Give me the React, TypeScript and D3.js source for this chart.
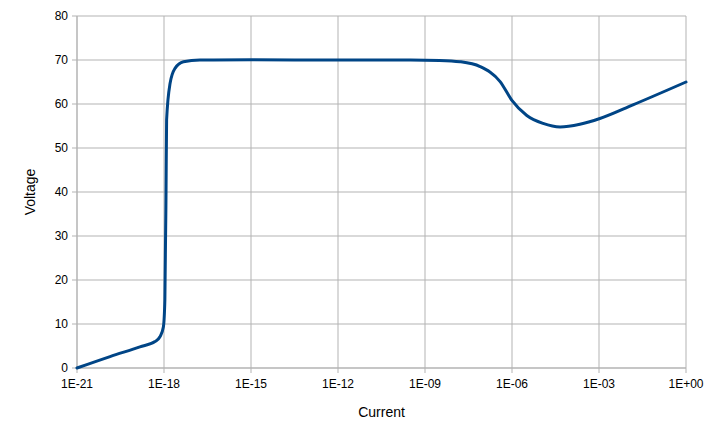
import React from "react";
import * as d3 from "d3";

const currentExp: number[] = [
  -21, -19.86, -18.83, -18.31, -18.14, -18.02, -17.97, -17.93, -17.91,
  -17.79, -17.62, -17.33, -16.76, -15, -12, -9.5, -8.5, -7.79, -7.1, -6.41,
  -6.01, -5.49, -4.93, -4.34, -3.66, -2.97, -1.83, 0,
];
const voltage: number[] = [
  0, 2.6, 4.8, 6.0, 7.1, 9.4, 15.5, 40, 56.4,
  64.7, 68.1, 69.6, 70, 70.05, 70, 70, 69.9, 69.6, 68.5, 65.1,
  60.9, 57.4, 55.6, 54.8, 55.4, 56.7, 59.8, 65,
];
const xTickExp: number[] = [-21, -18, -15, -12, -9, -6, -3, 0];
const yTicks: number[] = [0, 10, 20, 30, 40, 50, 60, 70, 80];

const W = 719;
const H = 439;
const margin = { left: 77, right: 33, top: 16, bottom: 71 };

function fmtExp(e: number): string {
  const sign = e < 0 ? "-" : "+";
  const a = Math.abs(e);
  return `1E${sign}${a < 10 ? "0" + a : a}`;
}

export default function App() {
  const x = d3
    .scaleLog()
    .domain([1e-21, 1])
    .range([margin.left, W - margin.right]);
  const y = d3
    .scaleLinear()
    .domain([0, 80])
    .range([H - margin.bottom, margin.top]);

  const data = currentExp.map((e, i) => ({ c: Math.pow(10, e), v: voltage[i] }));
  const line = d3
    .line<{ c: number; v: number }>()
    .x((d) => x(d.c))
    .y((d) => y(d.v))
    .curve(d3.curveMonotoneX);

  const grid = "#b3b3b3";
  const font = "'Liberation Sans', Arial, sans-serif";
  const x0 = margin.left;
  const x1 = W - margin.right;
  const y0 = H - margin.bottom;
  const y1 = margin.top;

  return (
    <svg
      width={W}
      height={H}
      style={{ position: "absolute", left: 0, top: 0, background: "#fff" }}
    >
      <rect x={0} y={0} width={W} height={H} fill="#fff" />
      {yTicks.map((t) => (
        <g key={"y" + t}>
          <line x1={x0 - 5} x2={x1} y1={y(t)} y2={y(t)} stroke={grid} strokeWidth={1} />
          <text
            x={x0 - 9}
            y={y(t)}
            dy="0.35em"
            textAnchor="end"
            fontFamily={font}
            fontSize={12}
            fill="#000"
          >
            {t}
          </text>
        </g>
      ))}
      {xTickExp.map((e) => (
        <g key={"x" + e}>
          <line
            x1={x(Math.pow(10, e))}
            x2={x(Math.pow(10, e))}
            y1={y1}
            y2={y0 + 5}
            stroke={grid}
            strokeWidth={1}
          />
          <text
            x={x(Math.pow(10, e))}
            y={y0 + 20}
            textAnchor="middle"
            fontFamily={font}
            fontSize={12}
            fill="#000"
          >
            {fmtExp(e)}
          </text>
        </g>
      ))}
      <line x1={x0} x2={x0} y1={y1} y2={y0} stroke={grid} strokeWidth={1} />
      <line x1={x0} x2={x1} y1={y0} y2={y0} stroke={grid} strokeWidth={1} />
      <path
        d={line(data) || ""}
        fill="none"
        stroke="#004586"
        strokeWidth={3}
        strokeLinejoin="round"
        strokeLinecap="round"
      />
      <text
        x={(x0 + x1) / 2}
        y={417}
        textAnchor="middle"
        fontFamily={font}
        fontSize={14}
        fill="#000"
      >
        Current
      </text>
      <text
        transform={`translate(35, ${(y0 + y1) / 2}) rotate(-90)`}
        textAnchor="middle"
        fontFamily={font}
        fontSize={14}
        fill="#000"
      >
        Voltage
      </text>
    </svg>
  );
}
